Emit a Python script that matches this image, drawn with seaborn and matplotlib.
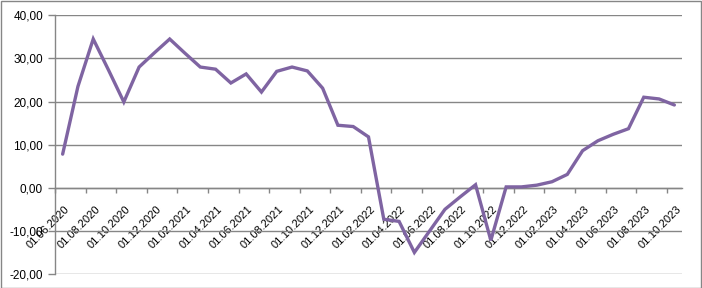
import matplotlib
matplotlib.use("Agg")
import matplotlib.pyplot as plt
from matplotlib.patches import Rectangle
from matplotlib.ticker import FixedLocator, FuncFormatter
import numpy as np
import pandas as pd
import seaborn as sns

dates = [
    "01.06.2020", "01.07.2020", "01.08.2020", "01.09.2020", "01.10.2020", "01.11.2020",
    "01.12.2020", "01.01.2021", "01.02.2021", "01.03.2021", "01.04.2021", "01.05.2021",
    "01.06.2021", "01.07.2021", "01.08.2021", "01.09.2021", "01.10.2021", "01.11.2021",
    "01.12.2021", "01.01.2022", "01.02.2022", "01.03.2022", "01.04.2022", "01.05.2022",
    "01.06.2022", "01.07.2022", "01.08.2022", "01.09.2022", "01.10.2022", "01.11.2022",
    "01.12.2022", "01.01.2023", "01.02.2023", "01.03.2023", "01.04.2023", "01.05.2023",
    "01.06.2023", "01.07.2023", "01.08.2023", "01.09.2023", "01.10.2023",
]
values = [
    7.8, 23.5, 34.5, 27.3, 19.9, 28.0, 31.3, 34.5, 31.2, 28.0, 27.5, 24.3,
    26.4, 22.2, 27.0, 28.0, 27.1, 23.1, 14.5, 14.2, 11.8, -7.3, -7.8, -15.0,
    -10.0, -5.0, -2.1, 0.7, -12.2, 0.2, 0.2, 0.6, 1.4, 3.1, 8.6, 10.9,
    12.4, 13.7, 21.0, 20.6, 19.2,
]
y_ticks = [-20, -10, 0, 10, 20, 30, 40]

sns.set_style("white")
plt.rcParams["font.family"] = ["Liberation Sans", "DejaVu Sans"]

df = pd.DataFrame({"date": dates, "value": values})
df["pos"] = np.arange(len(df))

fig = plt.figure(figsize=(7.02, 2.88), dpi=100)
ax = fig.add_axes([55 / 702, 1 - 274 / 288, (682 - 55) / 702, (274 - 15.3) / 288])

grid_c = "#868686"
for yv in y_ticks:
    ax.axhline(yv, color=grid_c, lw=1.0, zorder=1)

sns.lineplot(data=df, x="pos", y="value", ax=ax, color="#7F64A2", lw=2.4,
             zorder=3, solid_joinstyle="miter")

ax.set_xlim(-0.5, len(dates) - 0.5)
ax.set_ylim(-20, 40)
ax.set_xlabel("")
ax.set_ylabel("")

for s in ["top", "right"]:
    ax.spines[s].set_visible(False)
ax.spines["left"].set_color(grid_c)
ax.spines["left"].set_linewidth(1.0)
ax.spines["bottom"].set_position(("data", 0))
ax.spines["bottom"].set_color(grid_c)
ax.spines["bottom"].set_linewidth(1.0)

ax.set_yticks(y_ticks)
ax.yaxis.set_major_formatter(FuncFormatter(lambda v, p: f"{v:.2f}".replace(".", ",")))
ax.tick_params(axis="y", direction="out", length=5, width=1, color=grid_c,
               labelsize=8.5, pad=3.6, left=True, labelcolor="black")

label_idx = list(range(0, len(dates), 2))
label_shift = 0.33  # Excel draws rotated labels ending slightly right of category centre
ax.xaxis.set_major_locator(FixedLocator([p - 0.5 for p in range(0, len(dates) + 1, 2)]))
ax.xaxis.set_major_formatter(FuncFormatter(lambda v, p: ""))
ax.xaxis.set_minor_locator(FixedLocator([i + label_shift for i in label_idx]))
ax.set_xticklabels([dates[i] for i in label_idx], minor=True)
ax.tick_params(axis="x", which="major", direction="out", length=3.6, width=1,
               color=grid_c, bottom=True)
ax.tick_params(axis="x", which="minor", length=0, labelsize=8, pad=14,
               labelcolor="black")
for t in ax.get_xticklabels(minor=True):
    t.set_rotation(45)
    t.set_ha("right")
    t.set_va("center")
    t.set_rotation_mode("anchor")

fig.patches.append(Rectangle((0.5 / 702, 0.5 / 288), 700.5 / 702, 286.5 / 288,
                             transform=fig.transFigure, fill=False,
                             edgecolor=grid_c, lw=1.0))

fig.savefig("out.png", dpi=100)
